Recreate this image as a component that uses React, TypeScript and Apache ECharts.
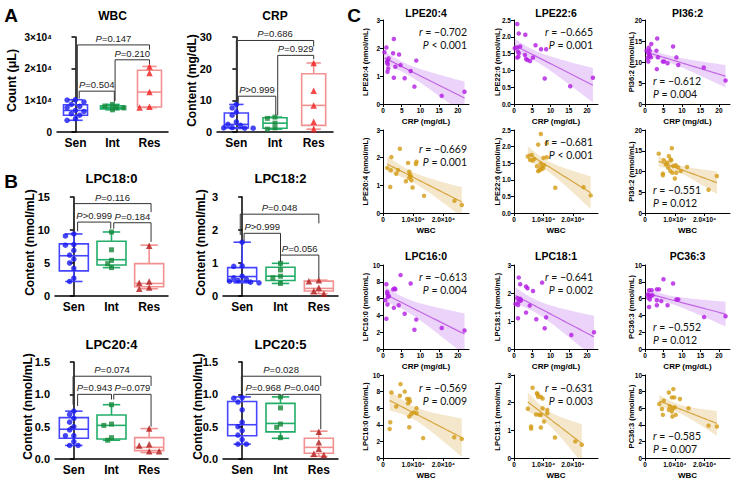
import React, { useEffect, useRef } from 'react';
import * as echarts from 'echarts';

const FONT = '"Liberation Sans", Arial, sans-serif';
const ANN_FONT = 'Lato, "Open Sans", sans-serif';

const groupNames = ['Sen', 'Int', 'Res'];

// ---------- Panel A ----------
const wbcSen = [10200, 10100, 9500, 8700, 8100, 7700, 6800, 6500, 5800, 5300, 4200, 3700];
const wbcInt = [8700, 8200, 7800, 7600, 7000];
const wbcRes = [20700, 18600, 12600, 8000, 7700];
const wbcBoxes = [[3700, 5300, 6800, 8600, 10200], [7000, 7300, 7800, 8300, 8700], [7700, 7900, 12600, 19500, 20700]];
const wbcBrackets = [[0.05, 2, 27500, 10600, 26000], [1.07, 2, 22800, 9800, 21500], [0.1, 1.05, 12900, 10600, 9500]];
const wbcP = ['=0.147', '=0.210', '=0.504'];

const crpSen = [8.7, 7.6, 6.3, 5.3, 3.2, 2.4, 2.1, 1.4, 1.3, 1.2, 1.2, 1.1];
const crpInt = [4.7, 4.3, 2.8, 1.3, 0.9];
const crpRes = [21.8, 13.0, 8.4, 3.2, 0.9];
const crpBoxes = [[1.1, 1.3, 2.4, 6.0, 8.7], [0.9, 1.2, 2.8, 4.5, 4.7], [0.9, 2.1, 8.4, 18.4, 21.8]];
const crpBrackets = [[0.0, 2, 28.9, 9.5, 27.0], [1.07, 2, 24.2, 5.3, 23.0], [0.05, 1.02, 11.3, 9.2, 5.3]];
const crpP = ['=0.686', '=0.929', '>0.999'];

// ---------- Panel B ----------
const lpc180Sen = [9.4, 9.1, 7.8, 7.7, 6.9, 6.2, 5.6, 5.0, 4.2, 2.7, 2.2];
const lpc180Int = [9.7, 7.0, 5.4, 4.9, 4.3];
const lpc180Res = [7.6, 2.2, 2.0, 1.3, 1.1];
const lpc180Boxes = [[2.2, 3.8, 6.1, 7.9, 9.4], [4.3, 4.7, 5.5, 8.3, 9.7], [1.1, 1.4, 1.9, 4.9, 7.7]];
const lpc180Brackets = [[0.0, 2.05, 14.0, 9.8, 12.7], [0.1, 0.98, 11.2, 9.8, 10.2], [1.06, 2.05, 11.1, 10.2, 8.2]];
const lpc180P = ['=0.116', '>0.999', '=0.184'];

const lpc182Sen = [1.63, 0.91, 0.9, 0.6, 0.55, 0.5, 0.47, 0.45, 0.42, 0.4];
const lpc182Int = [0.99, 0.79, 0.6, 0.55, 0.38];
const lpc182Res = [0.48, 0.45, 0.25, 0.15, 0.07];
const lpc182Boxes = [[0.4, 0.45, 0.59, 0.86, 1.63], [0.38, 0.47, 0.6, 0.87, 0.99], [0.07, 0.15, 0.23, 0.45, 0.48]];
const lpc182Brackets = [[-0.05, 2.0, 2.48, 1.85, 2.2], [0.05, 1.0, 1.9, 1.67, 1.04], [1.0, 2.0, 1.24, 1.04, 0.53]];
const lpc182P = ['=0.048', '>0.999', '=0.056'];

const lpc204Sen = [0.74, 0.69, 0.63, 0.57, 0.5, 0.45, 0.36, 0.36, 0.27, 0.21, 0.21];
const lpc204Int = [0.84, 0.54, 0.52, 0.33, 0.29];
const lpc204Res = [0.47, 0.23, 0.21, 0.12, 0.12];
const lpc204Boxes = [[0.21, 0.32, 0.46, 0.64, 0.74], [0.29, 0.31, 0.52, 0.68, 0.84], [0.1, 0.13, 0.18, 0.33, 0.47]];
const lpc204Brackets = [[-0.02, 2.05, 1.28, 0.84, 1.13], [0.1, 1.0, 1.0, 0.82, 0.92], [1.06, 2.05, 1.0, 0.92, 0.5]];
const lpc204P = ['=0.074', '=0.943', '=0.079'];

const lpc205Sen = [0.95, 0.94, 0.88, 0.76, 0.57, 0.5, 0.44, 0.37, 0.3, 0.23, 0.23];
const lpc205Int = [0.96, 0.79, 0.54, 0.49, 0.33];
const lpc205Res = [0.42, 0.26, 0.16, 0.08, 0.06];
const lpc205Boxes = [[0.23, 0.36, 0.53, 0.89, 0.96], [0.32, 0.42, 0.55, 0.86, 0.96], [0.04, 0.09, 0.18, 0.32, 0.43]];
const lpc205Brackets = [[-0.02, 2.05, 1.28, 1.0, 1.13], [0.1, 1.0, 1.0, 0.98, 0.98], [1.06, 2.05, 1.0, 0.98, 0.46]];
const lpc205P = ['=0.028', '=0.968', '=0.040'];

// ---------- Panel C : [x, y] pairs ----------
const lpe204Crp = [[0.4, 1.85], [0.9, 2.02], [1.1, 1.49], [1.2, 1.15], [1.3, 1.42], [1.4, 1.27], [1.5, 1.63], [1.2, 1.55], [2.9, 2.32], [2.7, 1.81], [2.9, 0.94], [3.3, 1.33], [4.3, 1.77], [4.7, 1.39], [5.8, 0.92], [7.4, 1.18], [8.4, 0.62], [8.9, 1.55], [15.7, 0.29], [21.8, 0.44]];
const lpe204Wbc = [[5600, 2.32], [2800, 2.02], [11100, 1.85], [10900, 1.77], [1400, 1.63], [2600, 1.55], [8300, 1.81], [4400, 1.42], [8700, 1.49], [8900, 1.39], [9200, 1.33], [8700, 1.27], [7600, 1.15], [9400, 1.18], [2400, 0.94], [9800, 0.92], [13600, 0.62], [23700, 0.44], [26100, 0.29], [5000, 1.55]];
const lpe226Crp = [[0.9, 2.38], [1.3, 2.1], [0.2, 1.66], [0.9, 1.68], [1.1, 1.56], [1.3, 1.51], [0.9, 1.38], [1.2, 1.41], [1.7, 1.71], [3.1, 2.06], [3.0, 1.46], [3.3, 1.34], [3.7, 1.31], [4.4, 1.28], [5.2, 1.38], [5.9, 1.75], [7.4, 1.63], [8.8, 1.63], [8.4, 0.76], [15.4, 0.53], [21.6, 0.78]];
const lpe226Wbc = [[9100, 2.38], [8200, 2.06], [11100, 2.1], [4700, 1.7], [6000, 1.75], [6900, 1.63], [6300, 1.58], [9100, 1.49], [10200, 1.44], [9300, 1.38], [8600, 1.29], [8200, 1.26], [11100, 1.68], [9800, 1.34], [7800, 1.41], [5500, 1.6], [14000, 0.76], [23600, 0.78], [26000, 0.53], [9000, 1.31], [10000, 1.66]];
const pi362Crp = [[3.3, 15.6], [1.7, 14.3], [1.0, 13.4], [0.4, 12.7], [1.3, 12.7], [3.1, 12.7], [0.9, 12.1], [1.3, 11.7], [1.1, 11.3], [0.7, 10.9], [1.6, 11.1], [0.9, 10.1], [3.5, 11.1], [4.8, 10.1], [5.2, 10.1], [6.1, 9.7], [7.6, 13.7], [8.5, 11.1], [9.0, 9.3], [3.2, 8.3], [15.9, 8.7], [21.8, 5.6]];
const pi362Wbc = [[4600, 14.3], [9000, 15.6], [8000, 13.7], [8600, 12.9], [7500, 12.1], [6300, 12.7], [10300, 11.5], [11100, 11.0], [14100, 11.1], [6000, 9.5], [6000, 9.1], [9200, 9.7], [8500, 10.1], [10000, 8.3], [21300, 5.6], [24100, 8.9], [7000, 11.7], [9500, 11.3], [7800, 10.9], [10500, 9.7], [8800, 12.7], [12000, 10.1]];
const lpc160Crp = [[4.7, 8.8], [7.4, 7.8], [0.9, 7.7], [2.7, 7.1], [3.1, 7.2], [3.3, 7.1], [1.1, 6.8], [1.2, 6.6], [1.6, 6.3], [1.3, 6.2], [0.6, 5.8], [1.2, 5.3], [4.2, 5.2], [2.9, 4.9], [5.8, 4.2], [0.9, 3.6], [8.9, 3.5], [8.4, 2.3], [15.7, 2.5], [21.8, 2.2]];
const lpc160Wbc = [[5800, 8.9], [2800, 7.9], [7200, 8.0], [5600, 7.5], [8000, 7.1], [8700, 7.1], [8300, 6.6], [8900, 6.8], [4400, 6.2], [11100, 6.0], [10200, 5.5], [9400, 5.3], [11100, 5.4], [8700, 5.0], [2400, 4.3], [2200, 3.5], [8700, 3.7], [13300, 2.4], [23600, 2.5], [26100, 2.3]];
const lpc181Crp = [[1.3, 2.55], [1.7, 2.31], [3.3, 2.23], [3.7, 2.17], [7.7, 2.37], [5.2, 2.07], [0.9, 1.81], [1.7, 1.79], [1.9, 1.73], [1.3, 1.69], [0.4, 1.61], [1.1, 1.57], [4.3, 1.55], [3.3, 1.3], [8.8, 1.13], [1.1, 1.1], [6.1, 1.06], [8.4, 0.74], [15.7, 0.5], [21.9, 0.6]];
const lpc181Wbc = [[6300, 2.54], [7800, 2.34], [8000, 2.3], [9100, 2.21], [9700, 2.15], [4700, 1.78], [9700, 1.8], [8600, 1.56], [9100, 1.56], [11300, 1.74], [11300, 1.62], [10200, 1.32], [5800, 1.14], [5800, 1.06], [9100, 1.1], [13900, 0.74], [20800, 0.6], [23000, 0.48], [8200, 2.21], [7500, 1.57]];
const pc363Crp = [[5.0, 8.3], [7.6, 7.8], [1.1, 7.0], [1.8, 7.0], [3.2, 7.1], [3.8, 7.1], [0.7, 6.5], [1.1, 6.4], [1.5, 6.3], [0.9, 6.1], [2.0, 6.4], [1.3, 5.9], [3.2, 5.8], [4.4, 5.7], [8.5, 5.9], [9.0, 5.9], [3.2, 5.2], [6.1, 5.2], [1.1, 5.0], [16.0, 3.8], [21.8, 3.9]];
const pc363Wbc = [[9500, 8.3], [8000, 7.9], [9800, 7.3], [9000, 7.3], [11700, 7.1], [4800, 6.5], [6300, 6.9], [8300, 6.2], [10000, 6.1], [9300, 6.0], [14600, 6.0], [9000, 5.6], [5700, 5.9], [8000, 5.8], [10300, 5.2], [6000, 5.2], [9200, 5.0], [21300, 3.9], [24100, 3.8]];

const corrR = ['−0.702', '−0.665', '−0.612', '−0.669', '−0.681', '−0.551', '−0.613', '−0.641', '−0.552', '−0.569', '−0.631', '−0.585'];
const corrP = ['< 0.001', '= 0.001', '= 0.004', '= 0.001', '< 0.001', '= 0.012', '= 0.004', '= 0.002', '= 0.012', '= 0.009', '= 0.003', '= 0.007'];

// ---------- layout / style ----------
const sciFmt = (v: number) => (v === 0 ? '0' : `${v / 1e4}×10⁴`);
const boxPanels: any[] = [
  { title: 'WBC', yName: 'Count (μL)', pts: [wbcSen, wbcInt, wbcRes], boxes: wbcBoxes, br: wbcBrackets, pl: wbcP, yMax: 30000, yInt: 10000, fmt: sciFmt, g: { left: 57, top: 37, width: 111, height: 95 }, titleY: 16, titleSize: 12, nameX: 12, nameSize: 12.5, tickSize: 10, boxW: 24, resColor: '#f01c1c' },
  { title: 'CRP', yName: 'Content (mg/dL)', pts: [crpSen, crpInt, crpRes], boxes: crpBoxes, br: crpBrackets, pl: crpP, yMax: 30, yInt: 10, fmt: (v: number) => `${v}`, g: { left: 217, top: 37, width: 116, height: 95 }, titleY: 16, titleSize: 12, nameX: 192, nameSize: 12, tickSize: 11, boxW: 24, resColor: '#f01c1c' },
  { title: 'LPC18:0', yName: 'Content (nmol/mL)', pts: [lpc180Sen, lpc180Int, lpc180Res], boxes: lpc180Boxes, br: lpc180Brackets, pl: lpc180P, yMax: 15, yInt: 5, fmt: (v: number) => `${v}`, g: { left: 55, top: 197, width: 113, height: 99 }, titleY: 178, titleSize: 13, nameX: 30, nameSize: 12, tickSize: 11, boxW: 29, resColor: '#b01c1c' },
  { title: 'LPC18:2', yName: 'Content (nmol/mL)', pts: [lpc182Sen, lpc182Int, lpc182Res], boxes: lpc182Boxes, br: lpc182Brackets, pl: lpc182P, yMax: 3, yInt: 1, fmt: (v: number) => `${v}`, g: { left: 223, top: 197, width: 115, height: 99 }, titleY: 178, titleSize: 13, nameX: 201, nameSize: 12, tickSize: 11, boxW: 29, resColor: '#b01c1c' },
  { title: 'LPC20:4', yName: 'Content (nmol/mL)', pts: [lpc204Sen, lpc204Int, lpc204Res], boxes: lpc204Boxes, br: lpc204Brackets, pl: lpc204P, yMax: 1.5, yInt: 0.5, fmt: (v: number) => v.toFixed(1), g: { left: 55, top: 362, width: 113, height: 97 }, titleY: 344, titleSize: 13, nameX: 28, nameSize: 12, tickSize: 11, boxW: 29, resColor: '#b01c1c' },
  { title: 'LPC20:5', yName: 'Content (nmol/mL)', pts: [lpc205Sen, lpc205Int, lpc205Res], boxes: lpc205Boxes, br: lpc205Brackets, pl: lpc205P, yMax: 1.5, yInt: 0.5, fmt: (v: number) => v.toFixed(1), g: { left: 223, top: 362, width: 115, height: 97 }, titleY: 344, titleSize: 13, nameX: 198, nameSize: 12, tickSize: 11, boxW: 29, resColor: '#b01c1c' },
];
const boxColors = ['#4646ff', '#22ad68', '#f39090'];
const ptColors = ['#1818f0', '#16873a'];
const ptSymbols = ['circle', 'rect', 'triangle'];
const ptSizes = [5.5, 5, 6.5];

const colLeft = [383, 514, 645];
const colW = [86, 84, 85];
const rowTop = [20, 130, 265, 375];
const rowH = [84, 83, 84, 83];
const nameXs = [365, 497, 631];

const sPanels: any[] = [
  { t: 'LPE20:4', pts: lpe204Crp, yMax: 3, yInt: 1, dec: 0, ann: [467, 32, 45, 'right'] },
  { t: 'LPE22:6', pts: lpe226Crp, yMax: 2.5, yInt: 0.5, dec: 1, ann: [593, 32, 45, 'right'] },
  { t: 'PI36:2', pts: pi362Crp, yMax: 20, yInt: 5, dec: 0, ann: [653, 81, 94, 'left'] },
  { t: 'LPE20:4', pts: lpe204Wbc, yMax: 3, yInt: 1, dec: 0, ann: [467, 149, 162, 'right'] },
  { t: 'LPE22:6', pts: lpe226Wbc, yMax: 2.5, yInt: 0.5, dec: 1, ann: [593, 142, 155, 'right'] },
  { t: 'PI36:2', pts: pi362Wbc, yMax: 20, yInt: 5, dec: 0, ann: [653, 190, 203, 'left'] },
  { t: 'LPC16:0', pts: lpc160Crp, yMax: 10, yInt: 2, dec: 0, ann: [467, 277, 290, 'right'] },
  { t: 'LPC18:1', pts: lpc181Crp, yMax: 3, yInt: 1, dec: 0, ann: [593, 277, 290, 'right'] },
  { t: 'PC36:3', pts: pc363Crp, yMax: 10, yInt: 2, dec: 0, ann: [653, 327, 340, 'left'] },
  { t: 'LPC16:0', pts: lpc160Wbc, yMax: 10, yInt: 2, dec: 0, ann: [467, 388, 401, 'right'] },
  { t: 'LPC18:1', pts: lpc181Wbc, yMax: 3, yInt: 1, dec: 0, ann: [593, 388, 401, 'right'] },
  { t: 'PC36:3', pts: pc363Wbc, yMax: 10, yInt: 2, dec: 0, ann: [653, 436, 449, 'left'] },
];

function swarm(vals: number[], pxPerY: number, catW: number, d: number): number[] {
  const order = vals.map((_, i) => i).sort((a, b) => vals[b] - vals[a]);
  const placed: number[][] = [];
  const res = new Array(vals.length).fill(0);
  for (const i of order) {
    const py = vals[i] * pxPerY;
    let chosen = 0;
    for (let k = 0; k < 14; k++) {
      const ox = (k % 2 === 1 ? -1 : 1) * Math.ceil(k / 2) * d * 0.85;
      if (placed.every(([qx, qy]) => Math.hypot(qx - ox, qy - py) >= d)) { chosen = ox; break; }
    }
    placed.push([chosen, py]);
    res[i] = chosen / catW;
  }
  return res;
}

function regBand(pts: number[][], yMax: number) {
  const n = pts.length;
  const mx = pts.reduce((s, p) => s + p[0], 0) / n;
  const my = pts.reduce((s, p) => s + p[1], 0) / n;
  let sxx = 0, sxy = 0;
  pts.forEach(([x, y]) => { sxx += (x - mx) ** 2; sxy += (x - mx) * (y - my); });
  const b = sxy / sxx, a = my - b * mx;
  let sse = 0;
  pts.forEach(([x, y]) => { sse += (y - a - b * x) ** 2; });
  const s = Math.sqrt(sse / (n - 2));
  const t = 2.1;
  const xs = pts.map((p) => p[0]);
  const x0 = Math.min(...xs), x1 = Math.max(...xs);
  const out: number[][] = [];
  const N = 40;
  const cl = (v: number) => Math.max(0, Math.min(yMax, v));
  for (let i = 0; i <= N; i++) {
    const x = x0 + ((x1 - x0) * i) / N;
    const yh = a + b * x;
    const h = t * s * Math.sqrt(1 / n + (x - mx) ** 2 / sxx);
    out.push([x, yh, cl(yh - h), cl(yh + h)]);
  }
  return out;
}

function txt(x: number, y: number, text: string, o: any = {}) {
  const size = o.size || 12;
  const family = o.family || FONT;
  const weight = o.bold === false ? 'normal' : 'bold';
  return {
    type: 'text', x, y, rotation: o.rot || 0, silent: true, z: 100,
    style: {
      text, fill: o.color || '#000', fontSize: size, fontFamily: family, fontWeight: weight,
      textAlign: o.align || 'center', align: o.align || 'center', textVerticalAlign: 'middle', verticalAlign: 'middle',
      rich: o.rich,
    },
  };
}

function buildOption() {
  const grid: any[] = [], xAxis: any[] = [], yAxis: any[] = [], series: any[] = [], graphic: any[] = [];

  graphic.push(txt(11, 15, 'A', { size: 19 }));
  graphic.push(txt(11, 181, 'B', { size: 19 }));
  graphic.push(txt(354, 15, 'C', { size: 19 }));

  boxPanels.forEach((bp) => {
    const gi = grid.length;
    grid.push({ ...bp.g, containLabel: false });
    xAxis.push({ type: 'category', gridIndex: gi, data: groupNames, axisLine: { lineStyle: { color: '#000', width: 1.5 } }, axisTick: { show: false }, axisLabel: { color: '#000', fontWeight: 'bold', fontSize: 12, fontFamily: FONT, margin: 5 } });
    const xVal = xAxis.length;
    xAxis.push({ type: 'value', gridIndex: gi, min: -0.5, max: 2.5, show: false });
    const yi = yAxis.length;
    yAxis.push({ type: 'value', gridIndex: gi, min: 0, max: bp.yMax, interval: bp.yInt, splitLine: { show: false }, axisLine: { show: true, lineStyle: { color: '#000', width: 1.5 } }, axisTick: { show: true, length: 4, lineStyle: { color: '#000', width: 1.5 } }, axisLabel: { color: '#000', fontWeight: 'bold', fontSize: bp.tickSize, fontFamily: FONT, margin: 5, formatter: bp.fmt } });

    const cx = bp.g.left + bp.g.width / 2;
    graphic.push(txt(cx, bp.titleY, bp.title, { size: bp.titleSize }));
    graphic.push(txt(bp.nameX, bp.g.top + bp.g.height / 2 - 4, bp.yName, { size: bp.nameSize, rot: Math.PI / 2 }));

    const halfW = bp.boxW / 2, capHalf = bp.boxW * 0.3;
    series.push({
      type: 'custom', xAxisIndex: xVal, yAxisIndex: yi, z: 2, silent: true,
      data: bp.boxes.map((b: number[], i: number) => [i, ...b]),
      encode: { x: 0, y: [1, 2, 3, 4, 5] },
      renderItem: (params: any, api: any) => {
        const x = api.value(0);
        const c = (k: number) => api.coord([x, api.value(k)]);
        const pMin = c(1), pQ1 = c(2), pMed = c(3), pQ3 = c(4), pMax = c(5);
        const px = pMed[0];
        const color = boxColors[params.dataIndex];
        const st = { stroke: color, lineWidth: 1.6, fill: 'none' };
        return {
          type: 'group', children: [
            { type: 'rect', shape: { x: px - halfW, y: pQ3[1], width: 2 * halfW, height: pQ1[1] - pQ3[1] }, style: { ...st } },
            { type: 'line', shape: { x1: px - halfW, y1: pMed[1], x2: px + halfW, y2: pMed[1] }, style: { ...st } },
            { type: 'line', shape: { x1: px, y1: pQ3[1], x2: px, y2: pMax[1] }, style: { ...st } },
            { type: 'line', shape: { x1: px, y1: pQ1[1], x2: px, y2: pMin[1] }, style: { ...st } },
            { type: 'line', shape: { x1: px - capHalf, y1: pMax[1], x2: px + capHalf, y2: pMax[1] }, style: { ...st } },
            { type: 'line', shape: { x1: px - capHalf, y1: pMin[1], x2: px + capHalf, y2: pMin[1] }, style: { ...st } },
          ],
        };
      },
    });

    const pxPerY = bp.g.height / bp.yMax;
    const catW = bp.g.width / 3;
    bp.pts.forEach((vals: number[], gidx: number) => {
      const offs = swarm(vals, pxPerY, catW, ptSizes[gidx] * 0.9);
      series.push({
        type: 'scatter', xAxisIndex: xVal, yAxisIndex: yi, z: 3, silent: true,
        symbol: ptSymbols[gidx], symbolSize: ptSizes[gidx],
        itemStyle: { color: gidx === 2 ? bp.resColor : ptColors[gidx] },
        data: vals.map((v, i) => [gidx + offs[i], v]),
      });
    });

    series.push({
      type: 'custom', xAxisIndex: xVal, yAxisIndex: yi, z: 4, silent: true,
      data: bp.br, encode: { x: [0, 1], y: [2, 3, 4] },
      renderItem: (params: any, api: any) => {
        const x1 = api.value(0), x2 = api.value(1), top = api.value(2), l = api.value(3), r = api.value(4);
        const a = api.coord([x1, l]), b = api.coord([x1, top]), c = api.coord([x2, top]), d = api.coord([x2, r]);
        return {
          type: 'group', children: [
            { type: 'polyline', shape: { points: [a, b, c, d] }, style: { stroke: '#333', lineWidth: 1, fill: 'none' } },
            {
              type: 'text', x: (b[0] + c[0]) / 2, y: b[1] - 1.5,
              style: {
                text: '{i|P}' + bp.pl[params.dataIndex], fill: '#222', fontSize: 9.5, fontFamily: FONT,
                align: 'center', verticalAlign: 'bottom', textAlign: 'center', textVerticalAlign: 'bottom',
                rich: { i: { fontStyle: 'italic', fontSize: 9.5, fontFamily: FONT, fill: '#222' } },
              },
            },
          ],
        };
      },
    });
  });

  sPanels.forEach((sp, idx) => {
    const row = Math.floor(idx / 3), col = idx % 3;
    const isCrp = row % 2 === 0;
    const g = { left: colLeft[col], width: colW[col], top: rowTop[row], height: rowH[row] };
    const gi = grid.length;
    grid.push(g);
    const xi = xAxis.length;
    xAxis.push({
      type: 'value', gridIndex: gi, min: 0, max: isCrp ? 23 : 28500, interval: isCrp ? 5 : 10000,
      splitLine: { show: false }, axisLine: { lineStyle: { color: '#000', width: 1 } },
      axisTick: { show: true, length: 3, lineStyle: { color: '#000' } },
      axisLabel: { color: '#000', fontSize: 6.5, fontWeight: 'bold', fontFamily: FONT, margin: 3, showMaxLabel: false, formatter: isCrp ? (v: number) => `${v}` : (v: number) => (v === 0 ? '0' : `${(v / 1e4).toFixed(1)}×10⁴`) },
    });
    const yi = yAxis.length;
    yAxis.push({
      type: 'value', gridIndex: gi, min: 0, max: sp.yMax, interval: sp.yInt,
      splitLine: { show: false }, axisLine: { show: true, lineStyle: { color: '#000', width: 1 } },
      axisTick: { show: true, length: 3, lineStyle: { color: '#000' } },
      axisLabel: { color: '#000', fontSize: 6.5, fontWeight: 'bold', fontFamily: FONT, margin: 3, formatter: (v: number) => v.toFixed(sp.dec) },
    });
    const ptColor = isCrp ? '#b31be3' : '#d39b14';
    const lineColor = isCrp ? '#c366e6' : '#d8a640';
    const bandColor = isCrp ? 'rgba(205,140,240,0.38)' : 'rgba(228,196,128,0.4)';
    const band = regBand(sp.pts, sp.yMax);
    series.push({
      type: 'custom', xAxisIndex: xi, yAxisIndex: yi, z: 1, silent: true,
      data: [[band[0][0], band[0][1]]], encode: { x: 0, y: 1 },
      renderItem: (_p: any, api: any) => {
        const up = band.map((d) => api.coord([d[0], d[3]]));
        const lo = band.map((d) => api.coord([d[0], d[2]])).reverse();
        const ln = band.map((d) => api.coord([d[0], d[1]]));
        return {
          type: 'group', children: [
            { type: 'polygon', shape: { points: up.concat(lo) }, style: { fill: bandColor, stroke: 'none' } },
            { type: 'polyline', shape: { points: ln }, style: { stroke: lineColor, lineWidth: 1.2, fill: 'none' } },
          ],
        };
      },
    });
    series.push({ type: 'scatter', xAxisIndex: xi, yAxisIndex: yi, z: 3, silent: true, symbol: 'circle', symbolSize: 4.5, itemStyle: { color: ptColor }, data: sp.pts });

    const cxp = g.left + g.width / 2;
    if (row % 2 === 0) graphic.push(txt(cxp, row === 0 ? 13 : 256, sp.t, { size: 10.5 }));
    graphic.push(txt(cxp, g.top + g.height + 17, isCrp ? 'CRP (mg/dL)' : 'WBC', { size: 8 }));
    graphic.push(txt(nameXs[col], g.top + g.height / 2, `${sp.t} (nmol/mL)`, { size: 7.5, rot: Math.PI / 2 }));
    const [ax, ry, py, al] = sp.ann;
    const rich = { i: { fontStyle: 'italic', fontSize: 10.5, fontFamily: ANN_FONT, fill: '#111' } };
    graphic.push(txt(ax, ry, `{i|r} = ${corrR[idx]}`, { size: 10.5, family: ANN_FONT, bold: false, align: al, rich, color: '#111' }));
    graphic.push(txt(ax, py, `{i|P} ${corrP[idx]}`, { size: 10.5, family: ANN_FONT, bold: false, align: al, rich, color: '#111' }));
  });

  return { animation: false, backgroundColor: '#fff', grid, xAxis, yAxis, series, graphic };
}

export default function App() {
  const ref = useRef<HTMLDivElement>(null);
  useEffect(() => {
    const chart = echarts.init(ref.current!, null, { renderer: 'svg', width: 735, height: 480 });
    chart.setOption(buildOption() as any);
    return () => chart.dispose();
  }, []);
  return <div ref={ref} style={{ position: 'fixed', left: 0, top: 0, width: 735, height: 480, background: '#fff' }} />;
}
